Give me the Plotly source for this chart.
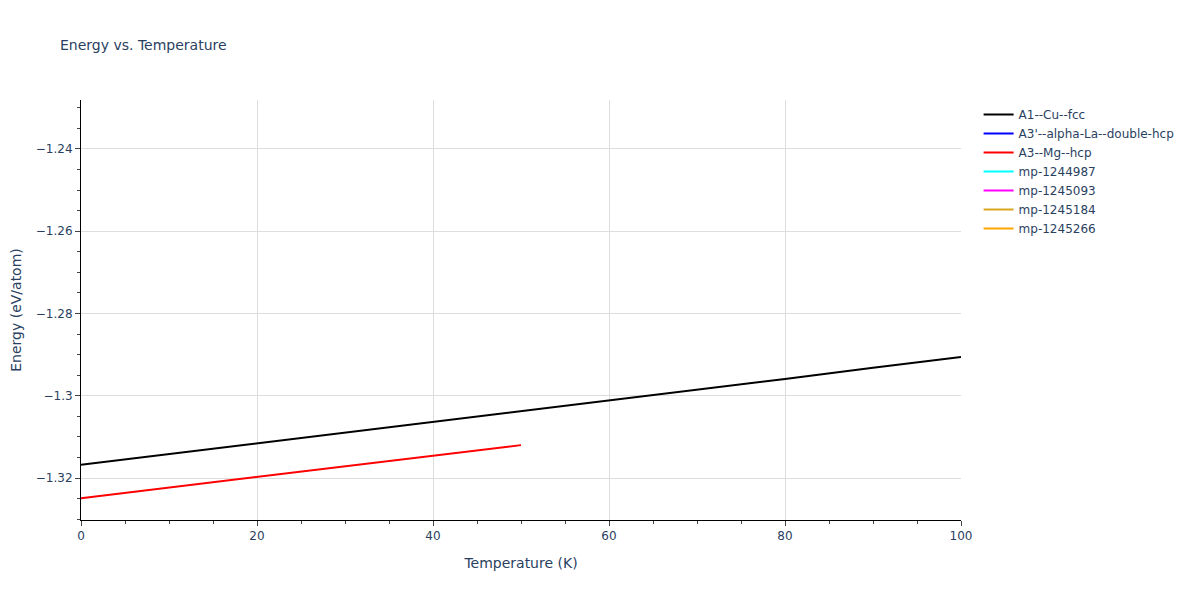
import plotly.graph_objects as go

# Data
temps_cu = [0, 10, 20, 30, 40, 50, 60, 70, 80, 90, 100]
energy_cu = [-1.3168, -1.3142, -1.3116, -1.3090, -1.3064, -1.3038,
             -1.3011, -1.2985, -1.2959, -1.2932, -1.2906]

temps_mg = [0, 10, 20, 30, 40, 50]
energy_mg = [-1.3249, -1.3223, -1.3197, -1.3172, -1.3146, -1.3120]

series_names = ["A1--Cu--fcc", "A3'--alpha-La--double-hcp", "A3--Mg--hcp",
                "mp-1244987", "mp-1245093", "mp-1245184", "mp-1245266"]
series_colors = ["black", "blue", "red", "cyan", "magenta", "goldenrod", "orange"]
series_x = [temps_cu, [None], temps_mg, [None], [None], [None], [None]]
series_y = [energy_cu, [None], energy_mg, [None], [None], [None], [None]]

fig = go.Figure()
for name, color, xs, ys in zip(series_names, series_colors, series_x, series_y):
    fig.add_trace(go.Scatter(x=xs, y=ys, mode="lines", name=name,
                             line=dict(color=color, width=2), showlegend=True))

fig.update_layout(
    template="plotly_white",
    width=1184, height=584,
    font=dict(family="DejaVu Sans, Verdana, sans-serif", size=12),
    title=dict(text="Energy vs. Temperature", x=52 / 1184, xanchor="left",
               y=1 - 37 / 584, yanchor="middle", yref="container",
               font=dict(size=14)),
    margin=dict(l=73, r=228, t=92, b=72),
    legend=dict(font=dict(size=12)),
    xaxis=dict(title="Temperature (K)", range=[0, 100], dtick=20,
               showline=True, linecolor="black", ticks="outside",
               ticklen=5, tickcolor="#444", zeroline=False,
               gridcolor="#dddddd", automargin=False,
               minor=dict(dtick=5, ticks="outside", ticklen=3, tickcolor="#444",
                          showgrid=False)),
    yaxis=dict(title="Energy (eV/atom)", range=[-1.3302, -1.2281], dtick=0.02,
               showline=True, linecolor="black", ticks="outside",
               ticklen=5, tickcolor="#444", zeroline=False,
               gridcolor="#dddddd", automargin=False,
               minor=dict(dtick=0.005, ticks="outside", ticklen=3, tickcolor="#444",
                          showgrid=False)),
)

fig.write_html("out.html")
